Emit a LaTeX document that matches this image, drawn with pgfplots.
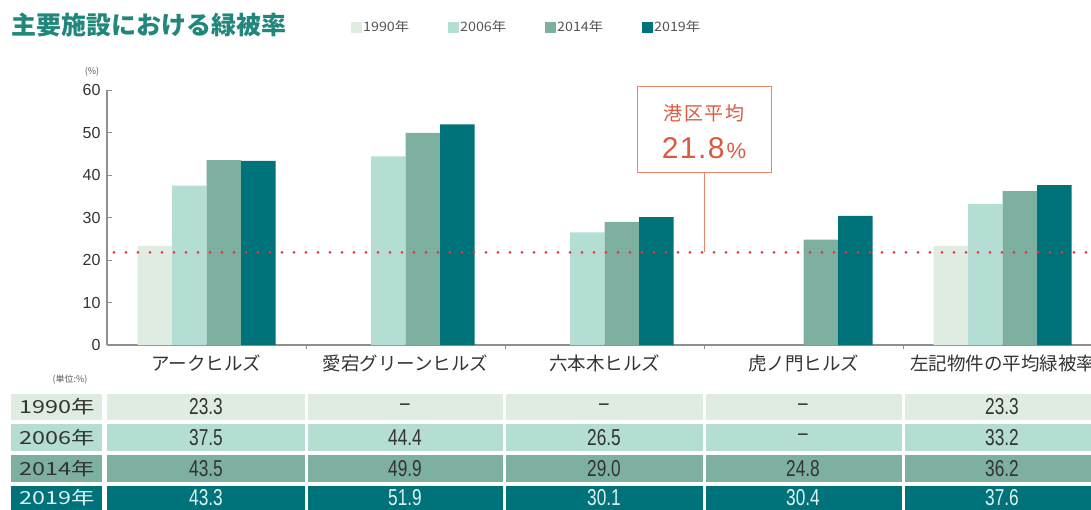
\documentclass[border=0pt]{standalone}
\usepackage{fontspec}
\usepackage{pgfplots}
\pgfplotsset{compat=1.18}
\setmainfont{Noto Sans CJK JP}
\newfontfamily\widefont{Noto Sans CJK JP}[FakeStretch=1.3]
\newfontfamily\legfont{Noto Sans CJK JP}[FakeStretch=1.1]
\newfontfamily\numfont{Liberation Sans}
\newfontfamily\condfont{Liberation Sans}[FakeStretch=0.75]

\definecolor{c1990}{HTML}{DFECE1}
\definecolor{c2006}{HTML}{B4DDD4}
\definecolor{c2014}{HTML}{7EB0A1}
\definecolor{c2019}{HTML}{00737A}
\definecolor{titlec}{HTML}{22877B}
\definecolor{avgred}{HTML}{E0383E}
\definecolor{boxc}{HTML}{E8866E}
\definecolor{boxtxt}{HTML}{DC5A40}
\definecolor{txt}{HTML}{333333}
\definecolor{legc}{HTML}{555555}
\definecolor{axisc}{HTML}{909090}
\definecolor{lightrow}{HTML}{DDF2F0}

\pgfplotsset{
  mybar/.style 2 args={ybar, bar width=34.5pt, bar shift=#2, fill=#1, draw=none,
    legend image code/.code={\fill[#1] (0pt,-5.5pt) rectangle (11pt,5.5pt);}},
}
\newcommand{\legtxt}[1]{\makebox[84pt][l]{#1}}

\begin{document}
\begin{tikzpicture}
\begin{axis}[
  at={(107pt,164pt)}, anchor=south west,
  scale only axis, width=995pt, height=255pt,
  xmin=-0.5, xmax=4.5, ymin=0, ymax=60,
  clip=false,
  axis lines*=left,
  axis line style={axisc, line width=1.2pt},
  xtick={0,...,4},
  xticklabels={アークヒルズ,愛宕グリーンヒルズ,六本木ヒルズ,虎ノ門ヒルズ,左記物件の平均緑被率},
  major x tick style={draw=none},
  extra x ticks={0.5,1.5,2.5,3.5},
  extra x tick style={xticklabel={}, tick align=outside, major tick length=4pt,
    major x tick style={draw=axisc, line width=1pt}},
  xticklabel style={font=\fontsize{18.5}{18.5}\selectfont, text=txt, yshift=-6pt},
  ytick={0,10,...,60},
  tick align=inside, major tick length=5pt,
  major y tick style={draw=axisc, line width=1pt},
  yticklabel style={font=\numfont\fontsize{16}{16}\selectfont, text=txt, xshift=-3pt},
  /pgf/number format/assume math mode=true,
  legend style={at={(0.2452,1.247)}, anchor=west, draw=none, fill=none,
    inner sep=0pt, font=\legfont\fontsize{13}{13}\selectfont, text=legc,
    nodes={inner sep=1pt}},
  legend columns=4,
  legend cell align=left,
]
\addplot[mybar={c1990}{-51.75pt}] coordinates {(0,23.3) (4,23.3)};
\addplot[mybar={c2006}{-17.25pt}] coordinates {(0,37.5) (1,44.4) (2,26.5) (4,33.2)};
\addplot[mybar={c2014}{17.25pt}] coordinates {(0,43.5) (1,49.9) (2,29.0) (3,24.8) (4,36.2)};
\addplot[mybar={c2019}{51.75pt}] coordinates {(0,43.3) (1,51.9) (2,30.1) (3,30.4) (4,37.6)};
\legend{\legtxt{1990年},\legtxt{2006年},\legtxt{2014年},\legtxt{2019年}}

% Minato-ku average
\addplot[avgred, line width=3pt, line cap=round, dash pattern=on 0pt off 12pt, forget plot]
  coordinates {(-0.465,21.8) (4.5,21.8)};
\draw[boxc, line width=1pt] (axis cs:2.5,21.8) -- (axis cs:2.5,40.5);
\node[draw=boxc, line width=1pt, fill=white, minimum width=134pt, minimum height=86pt,
  inner sep=0pt] at (axis cs:2.5,50.6) {};
\node[text=boxtxt, font=\fontsize{19}{19}\selectfont] at (axis cs:2.5,54.6)
  {港\kern2pt 区\kern2pt 平\kern2pt 均};
\node[text=boxtxt, font=\numfont\fontsize{30}{30}\selectfont] at (axis cs:2.5,46.4)
  {2\kern1.5pt 1\kern1.5pt .\kern1.5pt 8\kern2pt{\fontsize{22}{22}\selectfont\%}};
\end{axis}

\begin{scope}[x=1pt, y=1pt]
\node[anchor=west, text=titlec, font=\bfseries\fontsize{25}{25}\selectfont] at (8,484)
  {主要施設における緑被率};
\node[text=legc, font=\fontsize{9}{9}\selectfont] at (92,437) {(\%)};
\node[text=legc, font=\fontsize{9}{9}\selectfont] at (70,129) {(単位:\%)};

% table
\fill[c1990] (11,89) rectangle (102,115);  \fill[c1990] (107,89) rectangle (1100,115);
\fill[c2006] (11,58) rectangle (102,85);   \fill[c2006] (107,58) rectangle (1100,85);
\fill[c2014] (11,27) rectangle (102,54);   \fill[c2014] (107,27) rectangle (1100,54);
\fill[c2019] (11,-4) rectangle (102,23);   \fill[c2019] (107,-4) rectangle (1100,23);
\foreach \x in {306,504,704,903} \fill[white] (\x-1.5,-5) rectangle (\x+1.5,116);

\node[text=txt, font=\widefont\fontsize{18}{18}\selectfont] at (57,102) {1990年};
\node[text=txt, font=\widefont\fontsize{18}{18}\selectfont] at (57,71.5) {2006年};
\node[text=txt, font=\widefont\fontsize{18}{18}\selectfont] at (57,40.5) {2014年};
\node[text=lightrow, font=\widefont\fontsize{18}{18}\selectfont] at (57,11) {2019年};

\foreach \v [count=\i from 0] in {23.3,–,–,–,23.3}
  \node[text=txt, font=\condfont\fontsize{23}{23}\selectfont] at (206+199*\i,102) {\v};
\foreach \v [count=\i from 0] in {37.5,44.4,26.5,–,33.2}
  \node[text=txt, font=\condfont\fontsize{23}{23}\selectfont] at (206+199*\i,71.5) {\v};
\foreach \v [count=\i from 0] in {43.5,49.9,29.0,24.8,36.2}
  \node[text=txt, font=\condfont\fontsize{23}{23}\selectfont] at (206+199*\i,40.5) {\v};
\foreach \v [count=\i from 0] in {43.3,51.9,30.1,30.4,37.6}
  \node[text=lightrow, font=\condfont\fontsize{23}{23}\selectfont] at (206+199*\i,11) {\v};
\end{scope}

\pgfresetboundingbox
\path[use as bounding box] (0pt,0pt) rectangle (1091pt,509pt);
\end{tikzpicture}
\end{document}
